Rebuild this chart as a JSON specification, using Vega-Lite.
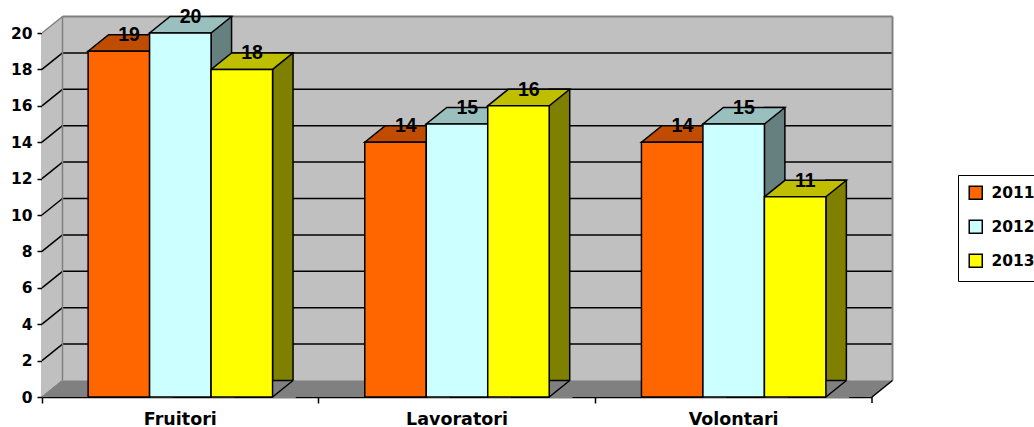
{
  "$schema": "https://vega.github.io/schema/vega-lite/v6.json",
  "width": 830,
  "height": 364,
  "autosize": {"type": "none"},
  "padding": {"left": 42, "top": 33, "right": 162, "bottom": 30},
  "background": "white",
  "config": {
    "view": {"stroke": null},
    "axis": {
      "domainColor": "black", "domainWidth": 1.5,
      "tickColor": "black", "tickWidth": 1.5,
      "labelColor": "black", "labelFont": "DejaVu Sans", "labelFontWeight": "bold",
      "grid": false, "zindex": 1, "labelOverlap": false
    },
    "axisX": {"bandPosition": -0.25, "tickSize": 6, "labelFontSize": 17.5, "labelPadding": 7, "labelAngle": 0},
    "axisY": {"tickSize": 5, "labelFontSize": 15.5, "labelPadding": 5, "labelOverlap": false, "labelSeparation": 0}
  },
  "datasets": {
    "counts": [
      {"cat": "Fruitori", "year": "2011", "v": 19},
      {"cat": "Fruitori", "year": "2012", "v": 20},
      {"cat": "Fruitori", "year": "2013", "v": 18},
      {"cat": "Lavoratori", "year": "2011", "v": 14},
      {"cat": "Lavoratori", "year": "2012", "v": 15},
      {"cat": "Lavoratori", "year": "2013", "v": 16},
      {"cat": "Volontari", "year": "2011", "v": 14},
      {"cat": "Volontari", "year": "2012", "v": 15},
      {"cat": "Volontari", "year": "2013", "v": 11}
    ],
    "levels": [{"v": 2}, {"v": 4}, {"v": 6}, {"v": 8}, {"v": 10}, {"v": 12}, {"v": 14}, {"v": 16}, {"v": 18}],
    "frame": [{}]
  },
  "data": {"name": "counts"},
  "resolve": {"scale": {"color": "independent", "xOffset": "independent"}},
  "layer": [
    {
      "data": {"name": "frame"},
      "mark": {"type": "rect", "fill": "#c0c0c0", "xOffset": 20.5, "x2Offset": 20.5, "yOffset": -16.5, "y2Offset": -16.5},
      "encoding": {
        "x": {"value": 0}, "x2": {"value": "width"},
        "y": {"datum": 20, "type": "quantitative", "scale": {"domain": [0, 20], "nice": false}, "title": null,
              "axis": {"values": [0, 2, 4, 6, 8, 10, 12, 14, 16, 18, 20], "tickCount": 11, "labelOverlap": false}},
        "y2": {"datum": 0}
      }
    },
    {
      "data": {"name": "frame"},
      "mark": {"type": "rect", "fill": "#808080", "x2Offset": 20.5, "yOffset": -16.5},
      "encoding": {
        "x": {"value": 0}, "x2": {"value": "width"},
        "y": {"datum": 0, "type": "quantitative"}, "y2": {"datum": 0}
      }
    },
    {
      "data": {"name": "frame"},
      "mark": {"type": "rect", "fill": "#c0c0c0", "x2Offset": 20.5, "yOffset": -16.5},
      "encoding": {
        "x": {"value": 0}, "x2": {"value": 0},
        "y": {"datum": 20, "type": "quantitative"}, "y2": {"datum": 0}
      }
    },
    {
      "data": {"name": "frame"},
      "mark": {"type": "point", "shape": "M0,0 L20.5,-16.5 L20.5,-19 L-1,-19 L-1,0 Z", "size": 4, "filled": true, "fill": "white", "strokeWidth": 0, "opacity": 1},
      "encoding": {"x": {"value": 0}, "y": {"datum": 20, "type": "quantitative"}}
    },
    {
      "data": {"name": "frame"},
      "mark": {"type": "point", "shape": "M0,0 L20.5,-16.5 L21.5,-16.5 L21.5,0 Z", "size": 4, "filled": true, "fill": "#808080", "strokeWidth": 0, "opacity": 1},
      "encoding": {"x": {"value": 0}, "y": {"datum": 0, "type": "quantitative"}}
    },
    {
      "data": {"name": "frame"},
      "mark": {"type": "point", "shape": "M0,0 L20.5,-16.5 L24,-16.5 L24,2 L0,2 Z", "size": 4, "filled": true, "fill": "white", "strokeWidth": 0, "opacity": 1},
      "encoding": {"x": {"value": "width"}, "y": {"datum": 0, "type": "quantitative"}}
    },
    {
      "data": {"name": "levels"},
      "mark": {"type": "rule", "stroke": "black", "strokeWidth": 1.5, "xOffset": 20.5, "x2Offset": 20.5, "yOffset": -16.5},
      "encoding": {
        "x": {"value": 0}, "x2": {"value": "width"},
        "y": {"field": "v", "type": "quantitative", "axis": {"values": [0, 2, 4, 6, 8, 10, 12, 14, 16, 18, 20], "tickCount": 11, "labelOverlap": false}}
      }
    },
    {
      "data": {"name": "levels"},
      "mark": {"type": "rule", "stroke": "black", "strokeWidth": 1.5, "x2Offset": 20.5, "y2Offset": -16.5},
      "encoding": {
        "x": {"value": 0}, "x2": {"value": 0},
        "y": {"field": "v", "type": "quantitative", "axis": {"values": [0, 2, 4, 6, 8, 10, 12, 14, 16, 18, 20], "tickCount": 11, "labelOverlap": false}},
        "y2": {"field": "v"}
      }
    },
    {
      "data": {"name": "frame"},
      "mark": {"type": "rule", "stroke": "#808080", "strokeWidth": 2, "xOffset": 20.5, "x2Offset": 20.5, "yOffset": -16.5},
      "encoding": {"x": {"value": 0}, "x2": {"value": "width"}, "y": {"datum": 20, "type": "quantitative"}}
    },
    {
      "data": {"name": "frame"},
      "mark": {"type": "rule", "stroke": "#808080", "strokeWidth": 2, "xOffset": 20.5, "yOffset": -16.5, "y2Offset": -16.5},
      "encoding": {"x": {"value": "width"}, "y": {"datum": 20, "type": "quantitative"}, "y2": {"datum": 0}}
    },
    {
      "data": {"name": "frame"},
      "mark": {"type": "rule", "stroke": "#808080", "strokeWidth": 1.5, "xOffset": 20.5, "yOffset": -16.5, "y2Offset": -16.5},
      "encoding": {"x": {"value": 0}, "y": {"datum": 20, "type": "quantitative"}, "y2": {"datum": 0}}
    },
    {
      "data": {"name": "frame"},
      "mark": {"type": "rule", "stroke": "#808080", "strokeWidth": 1.5, "x2Offset": 20.5, "y2Offset": -16.5},
      "encoding": {"x": {"value": 0}, "x2": {"value": 0}, "y": {"datum": 20, "type": "quantitative"}, "y2": {"datum": 20}}
    },
    {
      "data": {"name": "frame"},
      "mark": {"type": "rule", "stroke": "#808080", "strokeWidth": 1.5, "x2Offset": 20.5, "y2Offset": -16.5},
      "encoding": {"x": {"value": 0}, "x2": {"value": 0}, "y": {"datum": 0, "type": "quantitative"}, "y2": {"datum": 0}}
    },
    {
      "data": {"name": "frame"},
      "mark": {"type": "rule", "stroke": "#a0a0a0", "strokeWidth": 1, "xOffset": 20.5, "x2Offset": 20.5, "yOffset": -16.5},
      "encoding": {"x": {"value": 0}, "x2": {"value": "width"}, "y": {"datum": 0, "type": "quantitative"}}
    },
    {
      "data": {"name": "frame"},
      "mark": {"type": "rule", "stroke": "black", "strokeWidth": 1.5, "x2Offset": 20.5, "y2Offset": -16.5},
      "encoding": {"x": {"value": "width"}, "x2": {"value": "width"}, "y": {"datum": 0, "type": "quantitative"}, "y2": {"datum": 0}}
    },
    {
      "data": {"name": "frame"},
      "mark": {"type": "rule", "stroke": "black", "strokeWidth": 1.5, "y2Offset": 6},
      "encoding": {"x": {"value": "width"}, "y": {"datum": 0, "type": "quantitative"}, "y2": {"datum": 0}}
    },
    {
      "mark": {"type": "bar", "yOffset": -16.5, "stroke": "black", "strokeWidth": 1.5, "opacity": 1},
      "encoding": {
        "x": {"field": "cat", "type": "nominal", "sort": ["Fruitori", "Lavoratori", "Volontari"], "title": null,
              "scale": {"paddingInner": 0.3333333, "paddingOuter": 0.1666667}},
        "xOffset": {"field": "year", "type": "nominal", "sort": ["2011", "2012", "2013"],
                    "scale": {"range": [61.48, 204.93], "paddingInner": 0.6666667, "paddingOuter": 0}},
        "y": {"field": "v", "type": "quantitative", "title": null, "axis": {"values": [0, 2, 4, 6, 8, 10, 12, 14, 16, 18, 20], "tickCount": 11, "labelOverlap": false}},
        "color": {"field": "year", "type": "nominal", "sort": ["2011", "2012", "2013"],
                  "scale": {"range": ["#803300", "#668080", "#808000"]}, "legend": null}
      }
    },
    {
      "mark": {"type": "point", "shape": "M30.74,0 L51.24,-16.5 L54,-16.5 L54,1 L30.74,1 Z", "size": 4, "filled": true, "fill": "#808080", "strokeWidth": 0, "opacity": 1},
      "encoding": {
        "x": {"field": "cat", "type": "nominal", "sort": ["Fruitori", "Lavoratori", "Volontari"], "title": null},
        "xOffset": {"field": "year", "type": "nominal", "sort": ["2011", "2012", "2013"]},
        "y": {"datum": 0, "type": "quantitative"}
      }
    },
    {
      "mark": {"type": "point", "shape": "M30.74,0 L51.24,-16.5", "size": 4, "filled": false, "stroke": "black", "strokeWidth": 1.5, "opacity": 1},
      "encoding": {
        "x": {"field": "cat", "type": "nominal", "sort": ["Fruitori", "Lavoratori", "Volontari"], "title": null},
        "xOffset": {"field": "year", "type": "nominal", "sort": ["2011", "2012", "2013"]},
        "y": {"datum": 0, "type": "quantitative"}
      }
    },
    {
      "mark": {"type": "point", "shape": "M-30.74,0 L30.74,0 L51.24,-16.5 L-10.24,-16.5 Z", "size": 4, "filled": true, "stroke": "black", "strokeWidth": 1.5, "opacity": 1},
      "encoding": {
        "x": {"field": "cat", "type": "nominal", "sort": ["Fruitori", "Lavoratori", "Volontari"], "title": null},
        "xOffset": {"field": "year", "type": "nominal", "sort": ["2011", "2012", "2013"]},
        "y": {"field": "v", "type": "quantitative", "axis": {"values": [0, 2, 4, 6, 8, 10, 12, 14, 16, 18, 20], "tickCount": 11, "labelOverlap": false}},
        "color": {"field": "year", "type": "nominal", "sort": ["2011", "2012", "2013"],
                  "scale": {"range": ["#bf4c00", "#99bfbf", "#bfbf00"]}, "legend": null}
      }
    },
    {
      "mark": {"type": "bar", "stroke": "black", "strokeWidth": 1.5, "opacity": 1},
      "encoding": {
        "x": {"field": "cat", "type": "nominal", "sort": ["Fruitori", "Lavoratori", "Volontari"], "title": null},
        "xOffset": {"field": "year", "type": "nominal", "sort": ["2011", "2012", "2013"],
                    "scale": {"paddingInner": 0, "paddingOuter": 0}},
        "y": {"field": "v", "type": "quantitative", "title": null, "axis": {"values": [0, 2, 4, 6, 8, 10, 12, 14, 16, 18, 20], "tickCount": 11, "labelOverlap": false}},
        "color": {"field": "year", "type": "nominal", "sort": ["2011", "2012", "2013"],
                  "scale": {"range": ["#ff6600", "#ccffff", "#ffff00"]},
                  "legend": {
                    "title": null, "orient": "none", "legendX": 916, "legendY": 142,
                    "symbolType": "square", "symbolSize": 170,
                    "symbolStrokeColor": "black", "symbolStrokeWidth": 1.5, "symbolOpacity": 1,
                    "labelFont": "DejaVu Sans", "labelFontWeight": "bold", "labelFontSize": 15.5, "labelColor": "black",
                    "labelOffset": 8, "rowPadding": 14, "padding": 10,
                    "strokeColor": "black", "fillColor": "white"
                  }}
      }
    },
    {
      "mark": {"type": "text", "dx": 10.25, "dy": -10, "baseline": "alphabetic", "align": "center",
               "font": "Liberation Sans", "fontWeight": "bold", "fontSize": 19.5, "fill": "black"},
      "encoding": {
        "x": {"field": "cat", "type": "nominal", "sort": ["Fruitori", "Lavoratori", "Volontari"], "title": null},
        "xOffset": {"field": "year", "type": "nominal", "sort": ["2011", "2012", "2013"]},
        "y": {"field": "v", "type": "quantitative", "axis": {"values": [0, 2, 4, 6, 8, 10, 12, 14, 16, 18, 20], "tickCount": 11, "labelOverlap": false}},
        "text": {"field": "v", "type": "quantitative"}
      }
    }
  ]
}
